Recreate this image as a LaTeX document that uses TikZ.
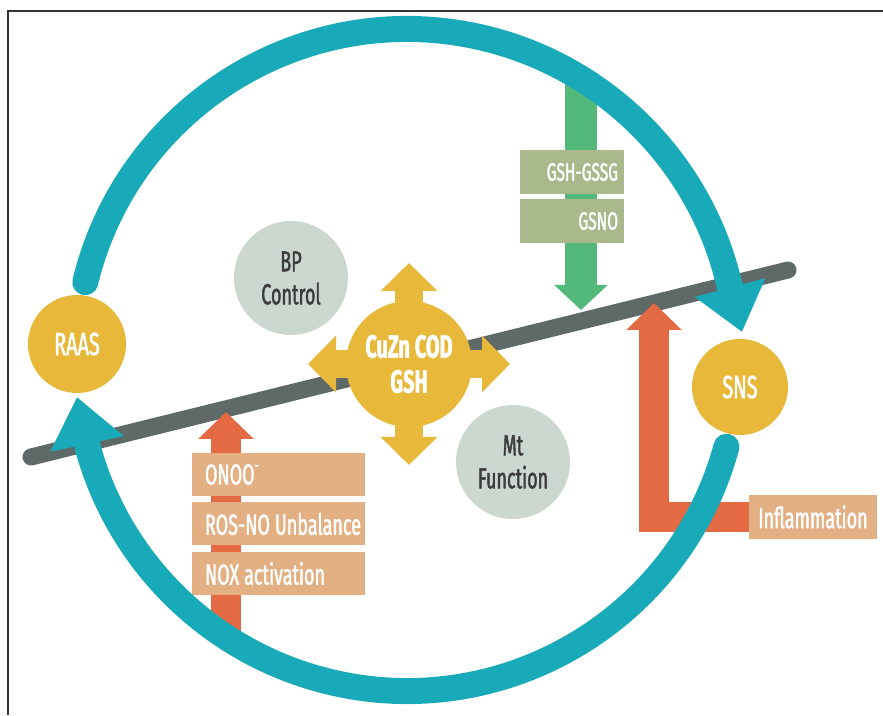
\documentclass[tikz,border=0pt]{standalone}
\usepackage{fontspec}
\setmainfont{Fira Sans}[FakeStretch=0.62, FakeBold=1.5]
\usetikzlibrary{arrows.meta}
\definecolor{teal1}{HTML}{19AAB9}
\definecolor{gold1}{HTML}{E8B83A}
\definecolor{orange1}{HTML}{E36A43}
\definecolor{tan1}{HTML}{E3B083}
\definecolor{bar1}{HTML}{5E6968}
\definecolor{pale1}{HTML}{CCD8CF}
\definecolor{green1}{HTML}{52B97A}
\definecolor{olive1}{HTML}{A9B98B}
\definecolor{textdark}{HTML}{3C3C3C}
\newcommand{\wsp}{\hspace{5pt}}
\begin{document}
\begin{tikzpicture}[x=1pt,y=1pt,
  lbl/.style={font=\fontsize{29}{33}\selectfont},
  goldc/.style={circle, fill=gold1, inner sep=0pt, text=white, lbl, align=center},
  palec/.style={circle, fill=pale1, inner sep=0pt, minimum size=114pt, text=textdark, lbl, align=center},
  tanbox/.style={rectangle, fill=tan1, minimum width=173pt, minimum height=43pt, inner xsep=13pt, inner ysep=0pt, text width=147pt, align=left, text=white, lbl},
  inflbox/.style={rectangle, fill=tan1, minimum width=128pt, minimum height=44pt, inner sep=0pt, text=white, lbl},
  olivebox/.style={rectangle, fill=olive1, minimum width=104pt, minimum height=44pt, inner xsep=6pt, inner ysep=0pt, text width=92pt, align=right, text=white, font=\fontsize{25}{28}\selectfont},
  tealarc/.style={draw=teal1, line width=26pt, line cap=round},
  barline/.style={draw=bar1, line width=17pt, line cap=round},
  orangearrow/.style={draw=orange1, line width=30pt, line join=miter, -{Triangle[width=54pt,length=27pt]}},
  greenarrow/.style={draw=green1, line width=32pt, -{Triangle[width=52pt,length=25pt]}},
  goldarrow/.style={draw=gold1, line width=28pt, -{Triangle[width=55pt,length=28pt]}}
]
\useasboundingbox (0,0) rectangle (883,715);
\fill[white] (0,0) rectangle (883,715);
% frame
\draw[line width=2pt, draw=black!80] (8,0) -- (8,704) -- (883,704);

% grey bar
\coordinate (barL) at (31,258);
\coordinate (barR) at (788,445);
\draw[barline] (barL) -- (barR);

% left orange arrow with boxes
\coordinate (oL0) at (226,78);
\coordinate (oL1) at (226,303);
\draw[orangearrow] (oL0) -- (oL1);
\node[tanbox] (onoo) at (278.5,240.5) {\mbox{ONOO\raisebox{0.45em}{\fontsize{18}{18}\selectfont -}}};
\node[tanbox] (ros) at (278.5,191) {\mbox{ROS-NO\wsp Unbalance}};
\node[tanbox] (nox) at (278.5,141.5) {\mbox{NOX\wsp activation}};

% green arrow with boxes
\coordinate (g0) at (581,637);
\coordinate (g1) at (581,405);
\draw[greenarrow] (g0) -- (g1);
\node[olivebox] (gsh) at (572,543) {\mbox{GSH-GSSG}};
\node[olivebox] (gsno) at (572,494) {\mbox{GSNO}};

% inflammation L arrow
\node[inflbox] (infl) at (813,198) {Inflammation};
\coordinate (corner) at (654,198);
\coordinate (o2) at (654,412);
\draw[orangearrow] (infl.west) -- (corner) -- (o2);

% CuZn star
\coordinate (cz) at (409,351);
\foreach \a in {0,90,180,270} \draw[goldarrow] (cz) -- ++(\a:101);
\node[goldc, minimum size=126pt, font=\bfseries\fontsize{32}{35}\selectfont] (cuzn) at (cz) {CuZn\wsp COD\\GSH};

% teal cycle
\coordinate (C) at (407,355);
\coordinate (snsIn) at (742,383);
\coordinate (raasIn) at (77,318);
\draw[tealarc, -{Triangle[width=70pt,length=46pt]}] ([shift={(166.4:331)}]C) arc[start angle=166.4, end angle=13.3, radius=331] -- (snsIn);
\draw[tealarc, -{Triangle[width=72pt,length=48pt]}] ([shift={(-15.2:331)}]C) arc[start angle=-15.2, end angle=-164.8, radius=331] -- (raasIn);

% circles
\node[goldc, minimum size=98pt, font=\fontsize{32}{35}\selectfont] (raas) at (77,371) {RAAS};
\node[goldc, minimum size=96pt, font=\fontsize{32}{35}\selectfont] (sns) at (740,328) {SNS};
\node[palec] (bp) at (291,437) {BP\\Control};
\node[palec] (mt) at (513,253) {Mt\\Function};
\end{tikzpicture}
\end{document}
